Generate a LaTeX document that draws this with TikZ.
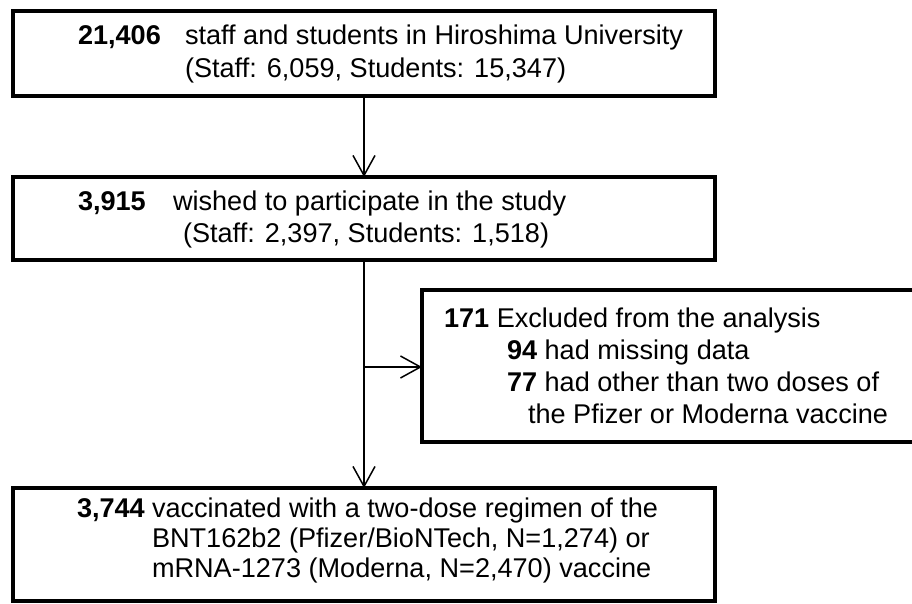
\documentclass[tikz,border=0pt]{standalone}
\usepackage{fontspec}
\setmainfont{Liberation Sans}
\usetikzlibrary{arrows.meta}
\begin{document}
\begin{tikzpicture}[x=1pt,y=-1pt,
  box/.style={draw, line width=4pt, rectangle, inner sep=0pt, outer sep=0pt},
  txt/.style={anchor=base west, inner sep=0pt, outer sep=0pt, font=\fontsize{27.1}{32}\selectfont},
  arr/.style={line width=1.5pt, -{Straight Barb[length=20pt,width=22pt,line width=1.5pt]}},
  ln/.style={line width=1.5pt}]
\useasboundingbox (0,0) rectangle (912,604);
% boxes
\node[box, minimum width=702pt, minimum height=85pt] (b1) at (364,53.5) {};
\node[box, minimum width=702pt, minimum height=83pt] (b2) at (364,218.5) {};
\node[box, minimum width=702pt, minimum height=113pt] (b3) at (364,544.5) {};
\node[box, minimum width=493pt, minimum height=152pt] (ex) at (668.5,366) {};
% texts box 1
\node[txt] (t1a) at (78,45) {\textbf{21,406}};
\node[txt] (t1b) at (185,45) {staff and students in Hiroshima University};
\node[txt] (t1c) at (185,78) {(Staff: 6,059, Students: 15,347)};
% texts box 2
\node[txt] (t2a) at (78,210) {\textbf{3,915}};
\node[txt] (t2b) at (173,210) {wished to participate in the study};
\node[txt] (t2c) at (183,242) {(Staff: 2,397, Students: 1,518)};
% exclusion
\node[txt] (e1) at (444,327) {\textbf{171} Excluded from the analysis};
\node[txt] (e2) at (507,359) {\textbf{94} had missing data};
\node[txt] (e3) at (507,391) {\textbf{77} had other than two doses of};
\node[txt] (e4) at (528,423) {the Pfizer or Moderna vaccine};
% texts box 3
\node[txt] (t3a) at (77,517) {\textbf{3,744}};
\node[txt] (t3b) at (152,517) {vaccinated with a two-dose regimen of the};
\node[txt] (t3c) at (152,547) {BNT162b2 (Pfizer/BioNTech, N=1,274) or};
\node[txt] (t3d) at (152,577) {mRNA-1273 (Moderna, N=2,470) vaccine};
% connectors
\draw[arr] (b1.south) -- (b2.north);
\draw[arr] (b2.south) -- (b3.north);
\coordinate (j) at (364,367);
\draw[arr] (j) -- (j -| ex.west);
\end{tikzpicture}
\end{document}
